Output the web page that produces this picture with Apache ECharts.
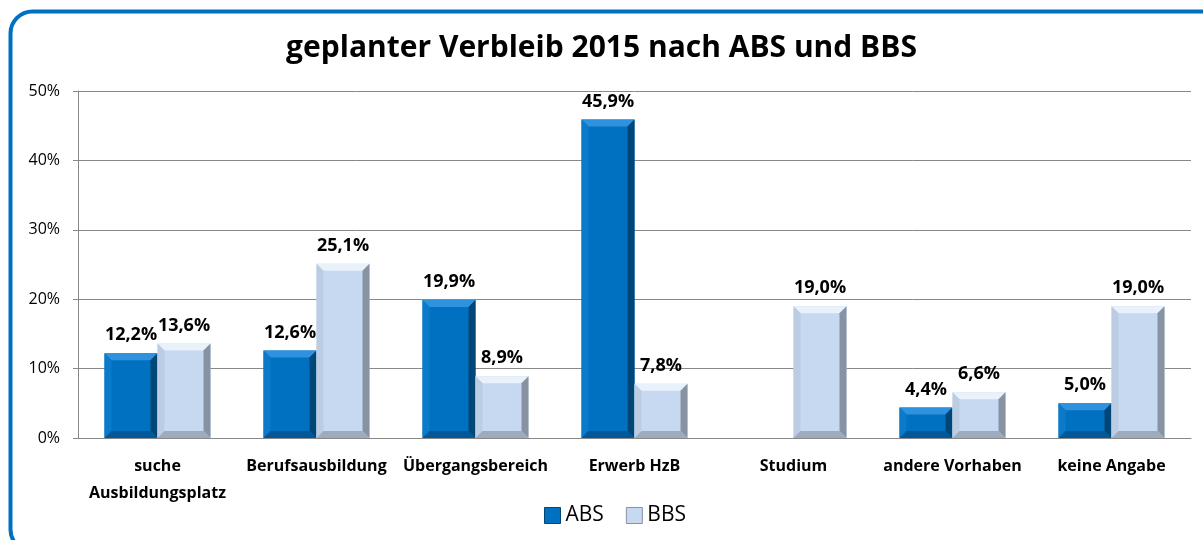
<!DOCTYPE html>
<html>
<head>
<meta charset="utf-8">
<script src="https://cdn.jsdelivr.net/npm/echarts@6/dist/echarts.min.js"></script>
<style>
html,body{margin:0;padding:0;background:#fff;}
#chart{width:1203px;height:540px;}
</style>
</head>
<body>
<div id="chart"></div>
<script>
const categories = ['suche\nAusbildungsplatz','Berufsausbildung','Übergangsbereich','Erwerb HzB','Studium','andere Vorhaben','keine Angabe'];
const absValues = [12.2, 12.6, 19.9, 45.9, null, 4.4, 5.0];
const bbsValues = [13.6, 25.1, 8.9, 7.8, 19.0, 6.6, 19.0];
const yTicks = [0, 10, 20, 30, 40, 50];
const seriesNames = ['ABS', 'BBS'];

const FONT = '"Open Sans", "Noto Sans", sans-serif';

const palettes = {
  ABS: {center:'#0070C0', top:'#2f92de', left:'#0b7acb', right:'#004677', bottom:'#00589a'},
  BBS: {center:'#C6D9F1', top:'#e9f1fb', left:'#bccde3', right:'#8793a3', bottom:'#9eabbc'}
};

function makeRender(name, offsetIndex) {
  const p = palettes[name];
  return function (params, api) {
    const v = api.value(1);
    if (v == null || isNaN(v)) return null;
    const idx = api.value(0);
    const base = api.coord([idx, 0]);
    const topPt = api.coord([idx, v]);
    const band = api.size([1, 0])[0];
    const bw = band / 3;
    const x0 = base[0] - bw + offsetIndex * bw;
    const x1 = x0 + bw;
    const y0 = topPt[1];
    const y1 = base[1];
    const h = y1 - y0;
    const b = Math.min(7, h / 2);
    const poly = (pts, color) => ({type:'polygon', shape:{points:pts}, style:{fill:color}});
    const label = v.toFixed(1).replace('.', ',') + '%';
    return {
      type: 'group',
      children: [
        {type:'rect', shape:{x:x0, y:y0, width:bw, height:h}, style:{fill:p.center}},
        poly([[x0,y0],[x1,y0],[x1-b,y0+b],[x0+b,y0+b]], p.top),
        poly([[x0,y0],[x0+b,y0+b],[x0+b,y1-b],[x0,y1]], p.left),
        poly([[x1,y0],[x1,y1],[x1-b,y1-b],[x1-b,y0+b]], p.right),
        poly([[x0,y1],[x0+b,y1-b],[x1-b,y1-b],[x1,y1]], p.bottom),
        {type:'text', style:{text:label, x:(x0+x1)/2, y:y0-9, align:'center', verticalAlign:'bottom',
          font:'bold 18px ' + FONT, fill:'#000'}}
      ]
    };
  };
}

const absData = absValues.map((v, i) => [i, v]);
const bbsData = bbsValues.map((v, i) => [i, v]);

const chart = echarts.init(document.getElementById('chart'), null, {renderer:'canvas'});
chart.setOption({
  animation: false,
  backgroundColor: '#fff',
  title: {
    text: 'geplanter Verbleib 2015 nach ABS und BBS',
    left: 'center', top: 28,
    textStyle: {fontFamily: FONT, fontWeight: 'bold', fontSize: 30, color: '#000'}
  },
  graphic: [{
    type: 'rect', left: 8, top: 9, z: 100, silent: true,
    shape: {width: 1215, height: 540, r: 22},
    style: {fill: 'none', stroke: '#0070C0', lineWidth: 4}
  }],
  legend: {
    left: 539, top: 500,
    itemWidth: 16, itemHeight: 16, itemGap: 22,
    textStyle: {fontFamily: FONT, fontSize: 21, color: '#000'},
    data: [
      {name: 'ABS', icon: 'rect', itemStyle: {color: '#0070C0', borderColor: '#004677', borderWidth: 1}},
      {name: 'BBS', icon: 'rect', itemStyle: {color: '#C6D9F1', borderColor: '#8793a3', borderWidth: 1}}
    ]
  },
  grid: {left: 78, right: 12, top: 91, bottom: 102, containLabel: false},
  xAxis: {
    type: 'category',
    data: categories,
    axisLine: {show: true, lineStyle: {color: '#888', width: 1}},
    axisTick: {show: false},
    axisLabel: {interval: 0, margin: 15, fontFamily: FONT, fontWeight: 'bold', fontSize: 16, color: '#000', lineHeight: 27}
  },
  yAxis: {
    type: 'value',
    min: yTicks[0], max: yTicks[yTicks.length - 1], interval: 10,
    axisLine: {show: true, lineStyle: {color: '#888'}},
    axisTick: {show: true, inside: false, length: 5, lineStyle: {color: '#888'}},
    axisLabel: {formatter: '{value}%', fontFamily: FONT, fontSize: 16, color: '#000', margin: 18},
    splitLine: {show: true, lineStyle: {color: '#888', width: 1}}
  },
  series: [
    {name: seriesNames[0], type: 'custom', itemStyle: {color: '#0070C0'}, renderItem: makeRender('ABS', 0), data: absData, encode: {x: 0, y: 1}},
    {name: seriesNames[1], type: 'custom', itemStyle: {color: '#C6D9F1'}, renderItem: makeRender('BBS', 1), data: bbsData, encode: {x: 0, y: 1}}
  ]
});
</script>
</body>
</html>
